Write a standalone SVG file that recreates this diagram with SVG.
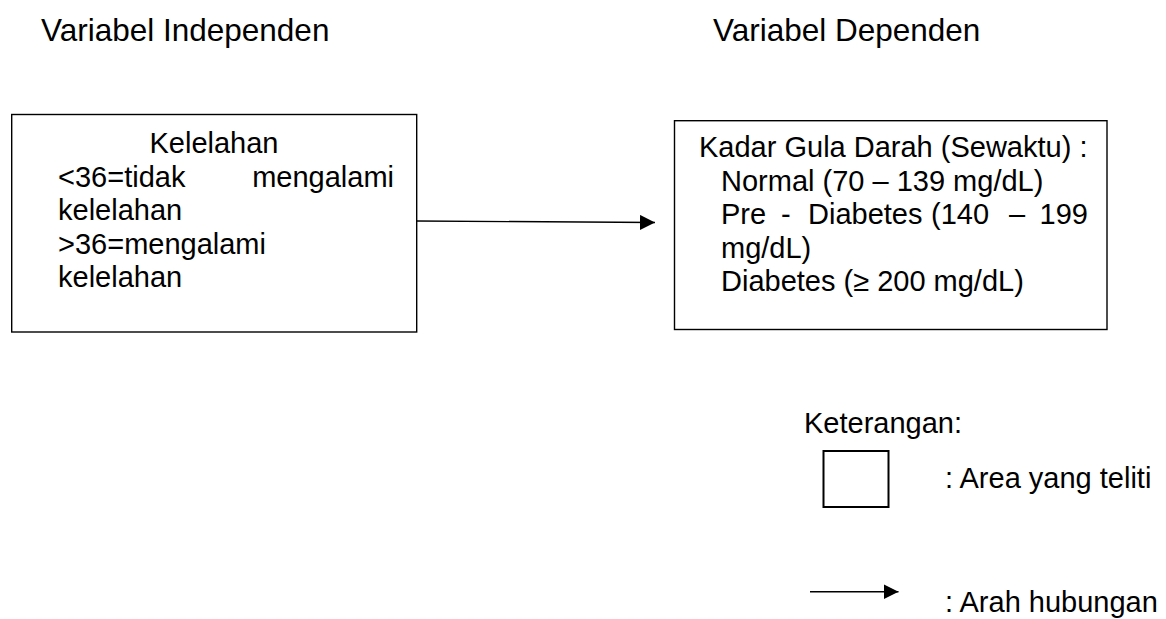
<svg xmlns="http://www.w3.org/2000/svg" width="1166" height="619" viewBox="0 0 1166 619">
<style>
text{font-family:"Liberation Sans",Arial,sans-serif;fill:#000}
.t{font-size:31.5px}
.b{font-size:29px}
.box{fill:#fff;stroke:#000;stroke-width:1.4}
.edge{stroke:#000;stroke-width:1.4;fill:none}
</style>
<defs>
<marker id="ah" markerUnits="userSpaceOnUse" markerWidth="16" markerHeight="16" refX="15" refY="7.5" orient="auto">
<path d="M0,0 L15,7.5 L0,15 Z" fill="#000"/>
</marker>
</defs>
<rect width="1166" height="619" fill="#fff"/>
<g id="title-independen"><text class="t" x="41" y="41">Variabel Independen</text></g>
<g id="title-dependen"><text class="t" x="713" y="41">Variabel Dependen</text></g>
<g id="node-kelelahan">
<rect class="box" x="11.7" y="114.5" width="405" height="217.5"/>
<text class="b" x="214" y="153" text-anchor="middle">Kelelahan</text>
<text class="b" x="58" y="186.5">&lt;36=tidak</text>
<text class="b" x="394" y="186.5" text-anchor="end">mengalami</text>
<text class="b" x="58" y="220">kelelahan</text>
<text class="b" x="58" y="253.5">&gt;36=mengalami</text>
<text class="b" x="58" y="287">kelelahan</text>
</g>
<g id="node-gula-darah">
<rect class="box" x="674.5" y="120.7" width="432.5" height="208.8"/>
<text class="b" x="699" y="157">Kadar Gula Darah (Sewaktu) :</text>
<text class="b" x="721" y="190.5">Normal (70 – 139 mg/dL)</text>
<text class="b" x="721" y="224">Pre</text>
<text class="b" x="781" y="224">-</text>
<text class="b" x="808" y="224">Diabetes</text>
<text class="b" x="931" y="224">(140</text>
<text class="b" x="1009" y="224">–</text>
<text class="b" x="1088" y="224" text-anchor="end">199</text>
<text class="b" x="721" y="257.5">mg/dL)</text>
<text class="b" x="721" y="291">Diabetes (≥ 200 mg/dL)</text>
</g>
<g id="connectors">
<line class="edge" x1="417" y1="221" x2="655" y2="222.5" marker-end="url(#ah)"/>
</g>
<g id="legend">
<text class="b" x="804" y="433">Keterangan:</text>
<rect x="823.5" y="451" width="65" height="56" fill="#fff" stroke="#000" stroke-width="2"/>
<text class="b" x="945" y="488">: Area yang teliti</text>
<line class="edge" x1="810" y1="591.7" x2="898.5" y2="591.7" marker-end="url(#ah)"/>
<text class="b" x="945" y="612">: Arah hubungan</text>
</g>
</svg>
